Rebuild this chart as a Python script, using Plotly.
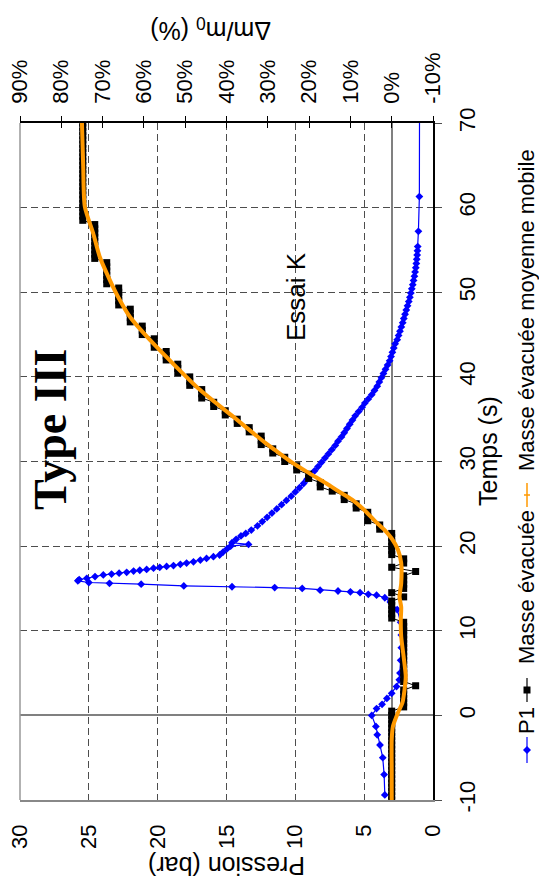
import plotly.graph_objects as go

# ---------------- data ----------------
# P1 : pressure (bar) versus time (s)
p1_time = [-9.4, -7.0, -5.0, -3.5, -2.3, -1.3, 0.0, 0.8, 1.3, 2.0, 2.6, 3.4, 4.2, 5.0,
           6.5, 8.0, 9.5, 11.0, 12.5, 13.4, 13.9, 14.2, 14.3, 14.5, 14.6, 14.7, 14.8,
           15.0, 15.1, 15.2, 15.3, 15.5, 15.6, 15.7, 15.9, 16.05, 16.2, 16.4, 16.6, 16.7,
           16.8, 16.9, 17.05, 17.15, 17.25, 17.4, 17.5, 17.6, 17.7, 17.85, 18.0, 18.15,
           18.35, 18.55, 18.75, 18.95, 19.3, 19.7, 20.0, 20.2, 20.4, 20.8, 21.2, 21.5,
           21.9, 22.4, 22.9, 23.4, 23.9, 24.4, 24.9, 25.4, 25.9, 26.4, 26.9, 27.4, 27.9,
           28.4, 28.9, 29.4, 29.9, 30.4, 30.9, 31.4, 31.9, 32.4, 32.9, 33.4, 33.9, 34.4,
           34.9, 35.4, 35.9, 36.4, 36.9, 37.4, 37.9, 38.4, 38.9, 39.4, 39.9, 40.4, 40.9,
           41.4, 41.9, 42.4, 42.9, 43.4, 43.9, 44.4, 44.9, 45.4, 45.9, 46.4, 46.9, 47.4,
           47.9, 48.4, 48.9, 49.4, 49.9, 50.4, 50.9, 51.4, 51.9, 52.4, 52.9, 53.4, 53.9,
           54.4, 54.9, 55.4, 57.2, 61.3, 71.0]
p1_pressure = [3.50, 3.55, 3.65, 3.85, 4.05, 4.15, 4.45, 4.10, 3.70, 3.35, 3.00, 2.65, 2.45, 2.40,
               2.35, 2.30, 2.30, 2.35, 2.60, 3.10, 3.50, 4.10, 4.70, 5.30, 6.00, 6.90, 8.20,
               9.50, 11.50, 14.60, 18.10, 21.20, 23.50, 25.00, 25.80, 25.70, 25.15, 24.55, 23.95, 23.35,
               22.80, 22.25, 21.75, 21.30, 20.80, 20.30, 19.85, 19.35, 18.85, 18.35, 17.90, 17.40,
               16.90, 16.45, 15.95, 15.50, 15.25, 14.95, 14.70, 13.40, 14.60, 14.30, 13.95, 13.60,
               13.20, 12.75, 12.40, 12.05, 11.70, 11.35, 11.00, 10.65, 10.30, 10.00, 9.70, 9.40, 9.15,
               8.90, 8.60, 8.35, 8.10, 7.85, 7.60, 7.35, 7.10, 6.90, 6.65, 6.45, 6.25, 6.05,
               5.85, 5.65, 5.40, 5.15, 4.95, 4.70, 4.45, 4.25, 4.05, 3.90, 3.75, 3.60, 3.45,
               3.30, 3.15, 3.05, 2.95, 2.85, 2.75, 2.60, 2.50, 2.40, 2.30, 2.20, 2.12, 2.03,
               1.94, 1.85, 1.76, 1.68, 1.61, 1.54, 1.47, 1.41, 1.35, 1.30, 1.25, 1.21, 1.18,
               1.15, 1.13, 1.11, 1.06, 0.99, 0.98]

# Masse évacuée : Δm/m0 (%) versus time (s)
mass_time = [-10.0, -9.5, -9.0, -8.5, -8.0, -7.5, -7.0, -6.5, -6.0, -5.5,
             -5.0, -4.5, -4.0, -3.5, -3.0, -2.5, -2.0, -1.5, -1.0, -0.5,
             0.0, 0.5, 1.0, 1.5, 2.0, 2.5, 3.0, 3.5, 4.0, 4.5,
             5.0, 5.5, 6.0, 6.5, 7.0, 7.5, 8.0, 8.5, 9.0, 9.5,
             10.0, 10.5, 11.0, 11.5, 12.0, 12.5, 13.0, 13.5, 14.0, 14.5,
             15.0, 15.5, 16.0, 16.5, 17.0, 17.5, 18.0, 18.5, 19.0, 19.5,
             20.0, 20.5, 21.0, 21.5, 22.0, 22.5, 23.0, 23.5, 24.0, 24.5,
             25.0, 25.5, 26.0, 26.5, 27.0, 27.5, 28.0, 28.5, 29.0, 29.5,
             30.0, 30.5, 31.0, 31.5, 32.0, 32.5, 33.0, 33.5, 34.0, 34.5,
             35.0, 35.5, 36.0, 36.5, 37.0, 37.5, 38.0, 38.5, 39.0, 39.5,
             40.0, 40.5, 41.0, 41.5, 42.0, 42.5, 43.0, 43.5, 44.0, 44.5,
             45.0, 45.5, 46.0, 46.5, 47.0, 47.5, 48.0, 48.5, 49.0, 49.5,
             50.0, 50.5, 51.0, 51.5, 52.0, 52.5, 53.0, 53.5, 54.0, 54.5,
             55.0, 55.5, 56.0, 56.5, 57.0, 57.5, 58.0, 58.5, 59.0, 59.5,
             60.0, 60.5, 61.0, 61.5, 62.0, 62.5, 63.0, 63.5, 64.0, 64.5,
             65.0, 65.5, 66.0, 66.5, 67.0, 67.5, 68.0, 68.5, 69.0, 69.5,
             70.0]
mass_pct = [0, 0, 0, 0, 0, 0, 0, 0, 0, 0,
            0, 0, 0, 0, 0, 0, 0, 0, 0, 0,
            0, 0, -2.9, -2.9, -2.9, -2.9, -2.9, -5.8, -2.9, -2.9,
            -2.9, -2.9, -2.9, -2.9, -2.9, -2.9, -2.9, -2.9, -2.9, -2.9,
            -2.9, -2.9, -2.9, 0, 0, 0, 0, 0, -2.9, 0,
            -2.9, -2.9, -2.9, -2.9, -5.8, 0, -2.9, -2.9, 0, 0,
            0, 0, 0, 0, 2.9, 2.9, 5.8, 5.8, 5.8, 8.6,
            8.6, 11.5, 11.5, 14.4, 17.3, 17.3, 20.1, 20.1, 23.0, 23.0,
            25.9, 25.9, 28.8, 28.8, 31.6, 31.6, 31.6, 34.5, 34.5, 37.4,
            37.4, 40.3, 40.3, 43.1, 43.1, 46.0, 46.0, 46.0, 48.9, 48.9,
            48.9, 51.8, 51.8, 51.8, 54.6, 54.6, 54.6, 57.5, 57.5, 57.5,
            60.4, 60.4, 60.4, 63.3, 63.3, 63.3, 63.3, 66.1, 66.1, 66.1,
            66.1, 66.1, 69.0, 69.0, 69.0, 69.0, 69.0, 69.0, 71.9, 71.9,
            71.9, 71.9, 71.9, 71.9, 71.9, 71.9, 71.9, 74.8, 74.8, 74.8,
            74.8, 74.8, 74.8, 74.8, 74.8, 74.8, 74.8, 74.8, 74.8, 74.8,
            74.8, 74.8, 74.8, 74.8, 74.8, 74.8, 74.8, 74.8, 74.8, 74.8,
            74.8]

# Masse évacuée moyenne mobile : Δm/m0 (%) versus time (s)
mavg_time = [-10.0, -6.5, -2.9, -1.3, 0.3, 1.5, 3.0, 4.6, 6.9, 9.3, 11.3, 12.8, 14.0,
             15.6, 18.0, 19.6, 20.9, 21.9, 22.9, 24.3, 25.5, 26.4, 27.4, 28.6, 29.8,
             31.4, 32.2, 35.3, 38.5, 44.4, 47.1, 49.5, 51.5, 54.2, 57.0, 60.1, 64.9, 70.0]
mavg_pct = [0.0, 0.0, 0.0, -0.3, -1.5, -2.6, -3.1, -3.4, -2.9, -2.3, -2.2, -2.3, -1.9,
            -2.3, -2.3, -1.5, 0.0, 1.7, 3.9, 6.7, 9.6, 12.6, 15.8, 19.9, 23.9,
            28.4, 30.6, 38.4, 46.5, 58.6, 63.4, 66.3, 68.3, 70.7, 72.3, 74.3, 74.7, 75.0]

pressure_ticks = [0, 5, 10, 15, 20, 25, 30]
pct_ticks = [-10, 0, 10, 20, 30, 40, 50, 60, 70, 80, 90]
pct_ticktext = ["-10%", "0%", "10%", "20%", "30%", "40%", "50%", "60%", "70%", "80%", "90%"]
time_ticks = [-10, 0, 10, 20, 30, 40, 50, 60, 70]
time_ticktext = ["-10", "0", "10", "20", "30", "40", "50", "60", "70"]

legend_names = ["P1", "Masse évacuée", "Masse évacuée moyenne mobile"]

# ---------------- figure ----------------
BLUE = "#0000FF"
ORANGE = "#FF9900"
GRID = "#4d4d4d"
FONT = "Liberation Sans"

fig = go.Figure()
fig.add_trace(go.Scatter(
    x=p1_pressure, y=p1_time, xaxis="x", yaxis="y", mode="lines+markers",
    line=dict(color=BLUE, width=1.2),
    marker=dict(symbol="diamond", size=6, color=BLUE), name=legend_names[0]))
fig.add_trace(go.Scatter(
    x=mass_pct, y=mass_time, xaxis="x2", yaxis="y", mode="lines+markers",
    line=dict(color="black", width=1),
    marker=dict(symbol="square", size=7, color="black"), name=legend_names[1]))
fig.add_trace(go.Scatter(
    x=mavg_pct, y=mavg_time, xaxis="x3", yaxis="y", mode="lines",
    line=dict(color=ORANGE, width=4, shape="spline", smoothing=0.7),
    name=legend_names[2]))

L, R, T, B = 20, 106, 123, 88
W, H = 539, 888
pw, ph = W - L - R, H - T - B


def px(xpix):
    return (xpix - L) / pw


def py(ypix):
    return (H - B - ypix) / ph


fig.update_layout(
    width=W, height=H,
    margin=dict(l=L, r=R, t=T, b=B, autoexpand=False),
    paper_bgcolor="white", plot_bgcolor="white",
    showlegend=False,
    font=dict(family=FONT, color="black", size=22),
    xaxis=dict(
        range=[30, 0], tickvals=pressure_ticks, tickangle=-90, automargin=False,
        showgrid=True, gridcolor=GRID, griddash="7px,4px", gridwidth=1,
        zeroline=False, showline=True, linecolor="#888888", linewidth=1.5,
        ticks="", tickfont=dict(size=22), ticklabelstandoff=14,
    ),
    xaxis2=dict(
        range=[90, -10], overlaying="x", side="top", anchor="y", automargin=False,
        tickvals=pct_ticks, ticktext=pct_ticktext, tickangle=-90,
        showgrid=False, zeroline=True, zerolinecolor="#808080", zerolinewidth=1.5,
        showline=True, linecolor="black", linewidth=1.5,
        ticks="outside", ticklen=5, tickcolor="black", tickwidth=1,
        tickfont=dict(size=22), ticklabelstandoff=8,
    ),
    xaxis3=dict(
        range=[90, -10], overlaying="x", side="top", anchor="y", automargin=False,
        tickvals=pct_ticks, showticklabels=False,
        showgrid=False, zeroline=False, showline=False,
        ticks="inside", ticklen=5, tickcolor="black", tickwidth=1,
    ),
    yaxis=dict(
        range=[-10, 70], side="right", tickvals=time_ticks, ticktext=time_ticktext,
        tickangle=-90, automargin=False,
        showgrid=True, gridcolor=GRID, griddash="7px,4px", gridwidth=1,
        zeroline=True, zerolinecolor="#808080", zerolinewidth=1.5,
        showline=True, linecolor="black", linewidth=1.5,
        ticks="outside", ticklen=7, tickcolor=GRID, tickwidth=1,
        tickfont=dict(size=22), ticklabelstandoff=7,
    ),
)

ann = []
ann.append(dict(text="Pression (bar)", x=px(227), y=py(866), xref="paper", yref="paper",
                showarrow=False, textangle=180, font=dict(size=25),
                xanchor="center", yanchor="middle"))
ann.append(dict(text="Δm/m<sub>0</sub> (%)", x=px(211), y=py(29), xref="paper", yref="paper",
                showarrow=False, textangle=180, font=dict(size=25),
                xanchor="center", yanchor="middle"))
ann.append(dict(text="Temps (s)", x=px(488), y=py(451), xref="paper", yref="paper",
                showarrow=False, textangle=-90, font=dict(size=25),
                xanchor="center", yanchor="middle"))
ann.append(dict(text="<b>Type III</b>", x=px(50), y=py(430), xref="paper", yref="paper",
                showarrow=False, textangle=-90, font=dict(size=46, family="Liberation Serif"),
                xanchor="center", yanchor="middle"))
ann.append(dict(text="Essai K", x=px(296), y=py(297), xref="paper", yref="paper",
                showarrow=False, textangle=-90, font=dict(size=26),
                xanchor="center", yanchor="middle"))
# legend texts
for name, ycen in zip(legend_names, [721, 587, 310]):
    ann.append(dict(text=name, x=px(526), y=py(ycen), xref="paper", yref="paper",
                    showarrow=False, textangle=-90, font=dict(size=22), borderpad=0,
                    xanchor="center", yanchor="middle"))
fig.update_layout(annotations=ann)

shapes = []
# left frame border
shapes.append(dict(type="line", xref="paper", yref="paper", x0=0, x1=0, y0=0, y1=1,
                   line=dict(color="#999999", width=1.5)))
lx = px(527)
dxp, dyp = 1 / pw, 1 / ph
# legend symbol: P1
shapes.append(dict(type="line", xref="paper", yref="paper", x0=lx, x1=lx,
                   y0=py(763), y1=py(737), line=dict(color=BLUE, width=1.2)))
cy = py(750)
shapes.append(dict(type="path", xref="paper", yref="paper",
                   path=f"M {lx},{cy - 4 * dyp} L {lx + 4 * dxp},{cy} L {lx},{cy + 4 * dyp} L {lx - 4 * dxp},{cy} Z",
                   fillcolor=BLUE, line=dict(color=BLUE, width=0)))
# legend symbol: Masse évacuée
shapes.append(dict(type="line", xref="paper", yref="paper", x0=lx, x1=lx,
                   y0=py(702), y1=py(678), line=dict(color="black", width=1.2)))
cy = py(690)
shapes.append(dict(type="rect", xref="paper", yref="paper",
                   x0=lx - 3.5 * dxp, x1=lx + 3.5 * dxp, y0=cy - 3.5 * dyp, y1=cy + 3.5 * dyp,
                   fillcolor="black", line=dict(color="black", width=0)))
# legend symbol: moyenne mobile
shapes.append(dict(type="line", xref="paper", yref="paper", x0=lx, x1=lx,
                   y0=py(507), y1=py(483), line=dict(color=ORANGE, width=1.5)))
cy = py(495)
shapes.append(dict(type="line", xref="paper", yref="paper", x0=lx - 3 * dxp, x1=lx + 3 * dxp,
                   y0=cy, y1=cy, line=dict(color=ORANGE, width=1.5)))
fig.update_layout(shapes=shapes)

fig.write_html(
    "out.html",
    config={"displayModeBar": False},
    post_script="document.body.style.margin='0';document.body.style.overflow='hidden';",
)
